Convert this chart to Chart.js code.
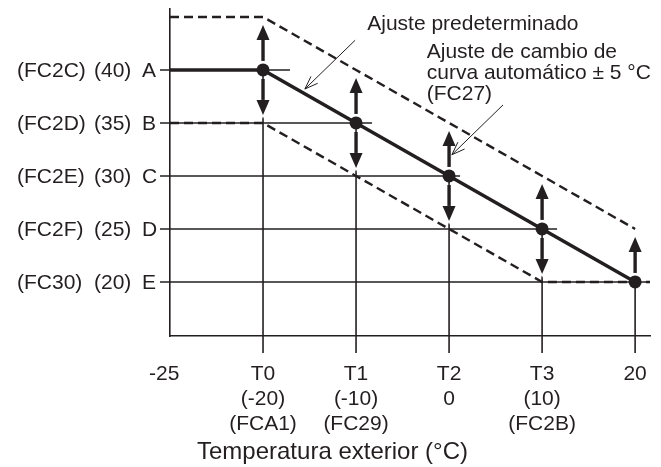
<!DOCTYPE html>
<html>
<head>
<meta charset="utf-8">
<script src="https://cdn.jsdelivr.net/npm/chart.js@4.4.1/dist/chart.umd.min.js"></script>
<style>
  html, body { margin: 0; padding: 0; background: #fff; }
  #wrap { width: 661px; height: 467px; }
</style>
</head>
<body>
<div id="wrap"><canvas id="curveChart" width="661" height="467"></canvas></div>
<script>
// x positions, drawn equally spaced
var xTicks = [
  ['-25  '],
  ['T0', '(-20)', '(FCA1)'],
  ['T1', '(-10)', '(FC29)'],
  ['T2', '0'],
  ['T3', '(10)', '(FC2B)'],
  ['20']
];

// setpoint levels on the left
var levelValues = [40, 35, 30, 25, 20];
var levelCodes = ['(FC2C)', '(FC2D)', '(FC2E)', '(FC2F)', '(FC30)'];
var levelTemps = ['(40)', '(35)', '(30)', '(25)', '(20)'];
var levelNames = ['A', 'B', 'C', 'D', 'E'];

// curves
var setpoint = [40, 40, 35, 30, 25, 20];
var upperShift = [45, 45, 40, 35, 30, 25];
var lowerShift = [35, 35, 30, 25, 20, 20];

var arrowUp = [false, true, true, true, true, true];
var arrowDown = [false, true, true, true, true, false];

var xTitle = 'Temperatura exterior (°C)';
var notes = [
  {x: 2.12, y: 43.8, lines: ['Ajuste predeterminado']},
  {x: 2.76, y: 41.1, lines: ['Ajuste de cambio de', 'curva automático ± 5 °C', '(FC27)']}
];
var leaders = [
  {from: [1.99, 42.8], to: [1.45, 38.2]},
  {from: [3.58, 36.7], to: [3.03, 32.0]}
];

var X_MAX = 5.16, Y_MIN = 14.9, Y_MAX = 45.75;
var INK = '#231f20';
var FONT = '"Liberation Sans", Arial, sans-serif';

function toPoints(arr) {
  return arr.map(function (v, i) { return {x: i, y: v}; });
}

function drawArrow(ctx, x, y0, y1) {
  var dir = y1 > y0 ? 1 : -1;
  var head = 15, half = 6.5;
  [['#fff', 7, 3], [INK, 3.4, 0]].forEach(function (s) {
    ctx.strokeStyle = s[0];
    ctx.fillStyle = s[0];
    ctx.lineWidth = s[1];
    ctx.beginPath();
    ctx.moveTo(x, y0);
    ctx.lineTo(x, y1 - dir * head);
    ctx.stroke();
    ctx.lineWidth = s[2] || 1;
    ctx.beginPath();
    ctx.moveTo(x, y1);
    ctx.lineTo(x - half, y1 - dir * head);
    ctx.lineTo(x + half, y1 - dir * head);
    ctx.closePath();
    ctx.fill();
    if (s[2]) ctx.stroke();
  });
}

var guides = {
  id: 'guides',
  beforeDatasetsDraw: function (chart) {
    var ctx = chart.ctx, xs = chart.scales.x, ys = chart.scales.y, area = chart.chartArea;
    var overhang = [27, 16, 11, 15];
    ctx.save();
    ctx.strokeStyle = INK;
    ctx.lineWidth = 1.6;
    levelValues.forEach(function (v, k) {
      var i = setpoint.lastIndexOf(v);
      var py = ys.getPixelForValue(v);
      var end = k === levelValues.length - 1 ? area.right : xs.getPixelForValue(i) + overhang[k];
      ctx.beginPath();
      ctx.moveTo(area.left - 10, py);
      ctx.lineTo(end, py);
      ctx.stroke();
    });
    setpoint.forEach(function (v, i) {
      if (i === 0) return;
      var px = xs.getPixelForValue(i);
      ctx.beginPath();
      ctx.moveTo(px, area.bottom + 17);
      ctx.lineTo(px, ys.getPixelForValue(v));
      ctx.stroke();
    });
    setpoint.forEach(function (v, i) {
      var px = xs.getPixelForValue(i), py = ys.getPixelForValue(v);
      if (arrowUp[i]) drawArrow(ctx, px, py - 9, py - 45);
      if (arrowDown[i]) drawArrow(ctx, px, py + 9, py + 45);
    });
    ctx.restore();
  },
  afterDraw: function (chart) {
    var ctx = chart.ctx, xs = chart.scales.x, ys = chart.scales.y;
    ctx.save();
    ctx.fillStyle = INK;
    ctx.strokeStyle = INK;
    // level labels in three columns
    ctx.font = '21px ' + FONT;
    ctx.textBaseline = 'middle';
    ctx.textAlign = 'left';
    levelValues.forEach(function (v, k) {
      var py = ys.getPixelForValue(v) + 1;
      ctx.fillText(levelCodes[k], 17, py);
      ctx.fillText(levelTemps[k], 94, py);
      ctx.fillText(levelNames[k], 142, py);
    });
    // notes
    ctx.textBaseline = 'alphabetic';
    notes.forEach(function (n) {
      var px = xs.getPixelForValue(n.x), py = ys.getPixelForValue(n.y);
      n.lines.forEach(function (t, j) { ctx.fillText(t, px, py + j * 21); });
    });
    // leader lines with open heads
    ctx.lineWidth = 1;
    leaders.forEach(function (l) {
      var x0 = xs.getPixelForValue(l.from[0]), y0 = ys.getPixelForValue(l.from[1]);
      var x1 = xs.getPixelForValue(l.to[0]), y1 = ys.getPixelForValue(l.to[1]);
      var a = Math.atan2(y0 - y1, x0 - x1);
      ctx.beginPath();
      ctx.moveTo(x0, y0);
      ctx.lineTo(x1, y1);
      ctx.moveTo(x1 + 14 * Math.cos(a + 0.35), y1 + 14 * Math.sin(a + 0.35));
      ctx.lineTo(x1, y1);
      ctx.lineTo(x1 + 14 * Math.cos(a - 0.35), y1 + 14 * Math.sin(a - 0.35));
      ctx.stroke();
    });
    // axis title, centred on the canvas
    ctx.font = '24px ' + FONT;
    ctx.textAlign = 'center';
    ctx.textBaseline = 'middle';
    ctx.fillText(xTitle, chart.width / 2 + 2, chart.height - 15);
    ctx.restore();
  }
};

var lowerPts = toPoints(lowerShift);
lowerPts.push({x: X_MAX, y: lowerShift[lowerShift.length - 1]});

var ctx = document.getElementById('curveChart');
var myChart = new Chart(ctx, {
  type: 'line',
  data: {
    datasets: [{
        label: 'Ajuste predeterminado',
        data: toPoints(setpoint),
        borderColor: INK,
        backgroundColor: INK,
        borderWidth: 3.5,
        pointRadius: [0, 6.5, 6.5, 6.5, 6.5, 6.5],
        pointBorderWidth: 0,
        fill: false
      },
      {
        label: '+5',
        data: toPoints(upperShift),
        borderColor: INK,
        borderWidth: 2.4,
        borderDash: [9, 5],
        pointRadius: 0,
        fill: false
      },
      {
        label: '-5',
        data: lowerPts,
        borderColor: INK,
        borderWidth: 2.4,
        borderDash: [9, 5],
        pointRadius: 0,
        fill: false
      }
    ]
  },
  plugins: [guides],
  options: {
    responsive: false,
    animation: false,
    devicePixelRatio: 1,
    layout: { padding: { top: 9, right: 11, bottom: 0, left: 0 } },
    scales: {
      x: {
        type: 'linear',
        min: 0,
        max: X_MAX,
        grid: { display: false },
        border: { display: true, color: INK, width: 1.6 },
        afterBuildTicks: function (s) {
          s.ticks = xTicks.map(function (_, i) { return {value: i}; });
        },
        afterFit: function (s) {
          s.height = 131;
          s.paddingLeft = 0;
          s.paddingRight = 0;
        },
        ticks: {
          padding: 17,
          color: INK,
          font: { family: FONT, size: 21, lineHeight: 1.21 },
          maxRotation: 0,
          autoSkip: false,
          callback: function (v) { return xTicks[v]; }
        }
      },
      y: {
        min: Y_MIN,
        max: Y_MAX,
        grid: { display: false },
        border: { display: true, color: INK, width: 1.6 },
        ticks: { display: false },
        afterFit: function (s) { s.width = 170; }
      }
    },
    plugins: {
      legend: { display: false },
      tooltip: { enabled: false }
    }
  }
});
</script>
</body>
</html>
